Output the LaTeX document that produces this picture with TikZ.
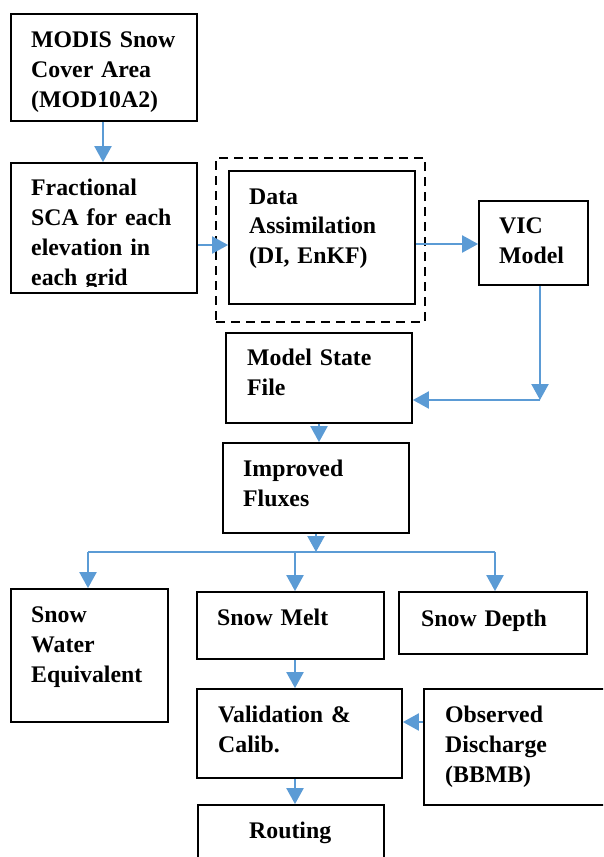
\documentclass[tikz,border=0pt]{standalone}
\usepackage{fontspec}
\setmainfont{Liberation Serif}
\usetikzlibrary{arrows.meta}
\definecolor{flowblue}{RGB}{91,155,213}
\tikzset{
  box/.style={draw=black, line width=1.8pt, inner sep=0pt, rectangle},
  dashbox/.style={draw=black, line width=2.4pt, dash pattern=on 9pt off 6pt, inner sep=0pt, rectangle},
  txt/.style={inner sep=0pt, anchor=base west, align=left, text width=220pt,
    font=\fontsize{23.8}{30}\selectfont\bfseries},
  flow/.style={draw=flowblue, line width=2.2pt, -{Triangle[width=17pt,length=16pt]}},
  flowline/.style={draw=flowblue, line width=1.5pt},
}
\begin{document}
\begin{tikzpicture}[x=1pt,y=-1pt]
\clip (0,0) rectangle (603,857);
\fill[white] (0,0) rectangle (603,857);
% boxes
\node[box, minimum width=186pt, minimum height=107pt] (modis) at (104,67.5) {};
\node[box, minimum width=186pt, minimum height=130pt] (frac) at (104,228) {};
\node[dashbox, minimum width=209pt, minimum height=164pt] (dash) at (320.5,240) {};
\node[box, minimum width=186pt, minimum height=133pt] (da) at (322,237.5) {};
\node[box, minimum width=109pt, minimum height=84pt] (vic) at (533.5,243) {};
\node[box, minimum width=186pt, minimum height=90pt] (ms) at (319,378) {};
\node[box, minimum width=186pt, minimum height=90pt] (imp) at (316,488) {};
\node[box, minimum width=157pt, minimum height=133pt] (swe) at (89.5,655.5) {};
\node[box, minimum width=187pt, minimum height=67pt] (melt) at (290.5,625.5) {};
\node[box, minimum width=188pt, minimum height=62pt] (depth) at (493,623) {};
\node[box, minimum width=205pt, minimum height=89pt] (valid) at (299.5,733.5) {};
\node[box, minimum width=196pt, minimum height=116pt] (obs) at (522,747) {};
\node[box, minimum width=186pt, minimum height=80pt] (rout) at (291,845) {};
% texts
\node[txt] (tmodis) at (31,47) {MODIS Snow\\Cover Area\\(MOD10A2)};
\begin{scope}
\clip (11,163) rectangle (197,286);
\node[txt] (tfrac) at (31,195) {Fractional\\SCA for each\\elevation in\\each grid};
\end{scope}
\node[txt, font=\fontsize{23.8}{29.5}\selectfont\bfseries] (tda) at (249,204) {Data\\Assimilation\\(DI, EnKF)};
\node[txt] (tvic) at (499,233) {VIC\\Model};
\node[txt] (tms) at (247,365) {Model State\\File};
\node[txt] (timp) at (243,476) {Improved\\Fluxes};
\node[txt] (tswe) at (31,622) {Snow\\Water\\Equivalent};
\node[txt] (tmelt) at (217,625) {Snow Melt};
\node[txt] (tdepth) at (421,626) {Snow Depth};
\node[txt] (tvalid) at (218,722) {Validation \&\\Calib.};
\node[txt] (tobs) at (445,722) {Observed\\Discharge\\(BBMB)};
\node[txt] (trout) at (249,838) {Routing};
% connector coordinates
\coordinate (victurn) at (540,400);
\coordinate (split) at (316,552);
\coordinate (bl) at (88,552);
\coordinate (bm) at (295,552);
\coordinate (br) at (495,552);
% connectors
\draw[flow] (modis.south -| 103,0) -- (frac.north -| 103,0);
\draw[flow] (frac.east |- 0,245) -- (da.west |- 0,245);
\draw[flow] (da.east |- 0,244) -- (vic.west |- 0,244);
\draw[flow] (vic.south -| victurn) -- (victurn);
\draw[flow] (victurn) -- (ms.east |- victurn);
\draw[flow] (ms.south) -- (imp.north -| ms.south);
\draw[flow] (imp.south -| split) -- (split);
\draw[flowline] (bl) -- (br);
\draw[flow] (bl) -- (swe.north -| bl);
\draw[flow] (bm) -- (melt.north -| bm);
\draw[flow] (br) -- (depth.north -| br);
\draw[flow] (melt.south -| bm) -- (valid.north -| bm);
\draw[flow] (obs.west |- 0,722) -- (valid.east |- 0,722);
\draw[flow] (valid.south -| bm) -- (rout.north -| bm);
\end{tikzpicture}
\end{document}
